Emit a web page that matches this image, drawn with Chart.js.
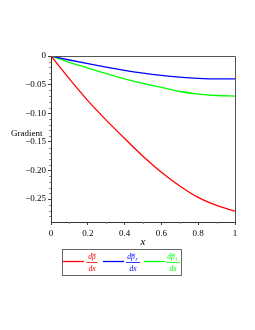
<!DOCTYPE html>
<html><head><meta charset="utf-8">
<script src="https://cdn.jsdelivr.net/npm/chart.js@4"></script>
<style>html,body{margin:0;padding:0;background:#fff}#c{display:block}</style>
</head>
<body>
<canvas id="c" width="255" height="330"></canvas>
<script>
const xValues = [0, 0.1, 0.2, 0.3, 0.4, 0.5, 0.6, 0.7, 0.8, 0.9, 1.0];
const rhoGradient = [0, -0.040, -0.078, -0.112, -0.144, -0.175, -0.203, -0.227, -0.247, -0.261, -0.271];
const prGradient = [0, -0.007, -0.0135, -0.0195, -0.025, -0.030, -0.034, -0.037, -0.039, -0.040, -0.040];
const ptGradient = [0, -0.011, -0.021, -0.031, -0.040, -0.048, -0.055, -0.062, -0.0665, -0.069, -0.070];
const yTickValues = [0, -0.05, -0.10, -0.15, -0.20, -0.25];
const yTickLabels = ['0', '\u22120.05', '\u22120.10', '\u22120.15', '\u22120.20', '\u22120.25'];
const xTickValues = [0, 0.2, 0.4, 0.6, 0.8, 1];
const xTickLabels = ['0', '0.2', '0.4', '0.6', '0.8', '1'];
const seriesColors = ['#ff0000', '#0000ff', '#00ff00'];
const legendNumerators = ['d\u03C1', 'dp', 'dp'];
const legendSubscripts = ['', 'r', 't'];
const legendDenominator = 'dx';
const xTitle = 'x';
const yTitle = 'Gradient';

const FONT = "'Liberation Serif', 'DejaVu Serif', serif";

function pts(ys) { return xValues.map((x, i) => ({ x: x, y: ys[i] })); }

const decor = {
  id: 'decor',
  afterDraw(chart) {
    const ctx = chart.ctx;
    const a = chart.chartArea;
    const xs = chart.scales.x, ys = chart.scales.y;
    ctx.save();
    // frame top/right
    ctx.strokeStyle = '#555';
    ctx.lineWidth = 1;
    ctx.beginPath();
    ctx.moveTo(a.left, a.top + 0.5); ctx.lineTo(a.right + 0.5, a.top + 0.5); ctx.lineTo(a.right + 0.5, a.bottom);
    ctx.stroke();
    // minor ticks
    ctx.strokeStyle = '#888';
    ctx.beginPath();
    for (let k = 1; k < 10; k += 2) {
      const px = Math.round(xs.getPixelForValue(k / 10)) + 0.5;
      ctx.moveTo(px, a.bottom); ctx.lineTo(px, a.bottom + 2);
    }
    for (let k = 1; k <= 28; k++) {
      if (k % 5 === 0) continue;
      const py = Math.round(ys.getPixelForValue(-k / 100)) + 0.5;
      ctx.moveTo(a.left, py); ctx.lineTo(a.left - 2, py);
    }
    ctx.stroke();
    // titles
    ctx.fillStyle = '#000';
    ctx.font = 'italic 11px ' + FONT;
    ctx.textAlign = 'center'; ctx.textBaseline = 'middle';
    ctx.fillText(xTitle, (a.left + a.right) / 2, 242);
    ctx.font = '9px ' + FONT;
    ctx.textAlign = 'left';
    ctx.fillText(yTitle, 11, 134);
    // legend
    ctx.strokeStyle = '#666';
    ctx.lineWidth = 1;
    ctx.strokeRect(62.5, 249.5, 119, 26);
    const lineX = [63, 103, 144];
    const labelX = [92, 133, 173];
    chart.data.datasets.forEach((ds, i) => {
      ctx.strokeStyle = ds.borderColor;
      ctx.lineWidth = 1.3;
      ctx.beginPath();
      ctx.moveTo(lineX[i], 261.5); ctx.lineTo(lineX[i] + 21, 261.5);
      ctx.stroke();
      const cx = labelX[i];
      const sub = legendSubscripts[i];
      const ncx = cx - (sub ? 2 : 0);
      ctx.fillStyle = ds.borderColor;
      ctx.font = 'italic 7.5px ' + FONT;
      ctx.textAlign = 'center'; ctx.textBaseline = 'alphabetic';
      const nw = ctx.measureText(legendNumerators[i]).width;
      ctx.fillText(legendNumerators[i], ncx, 259);
      // overbar on the second letter
      const dw = ctx.measureText('d').width;
      ctx.lineWidth = 0.6;
      ctx.beginPath();
      ctx.moveTo(ncx - nw / 2 + dw, 254.3); ctx.lineTo(ncx + nw / 2 + 0.5, 254.3);
      ctx.stroke();
      if (sub) {
        ctx.font = 'italic 5.5px ' + FONT;
        ctx.textAlign = 'left';
        ctx.fillText(sub, ncx + nw / 2 + 0.8, 260.5);
        ctx.textAlign = 'center';
      }
      ctx.font = 'italic 7.5px ' + FONT;
      ctx.fillText(legendDenominator, cx, 271);
      ctx.lineWidth = 0.8;
      ctx.beginPath();
      ctx.moveTo(cx - (sub ? 7 : 5.5), 262.5); ctx.lineTo(cx + (sub ? 7 : 5.5), 262.5);
      ctx.stroke();
    });
    ctx.restore();
  }
};

new Chart(document.getElementById('c'), {
  type: 'line',
  data: {
    datasets: [
      { data: pts(rhoGradient), borderColor: seriesColors[0] },
      { data: pts(prGradient), borderColor: seriesColors[1] },
      { data: pts(ptGradient), borderColor: seriesColors[2] }
    ]
  },
  options: {
    responsive: false,
    animation: false,
    devicePixelRatio: 1,
    layout: { padding: { left: 0, right: 20, top: 56, bottom: 0 } },
    elements: {
      point: { radius: 0 },
      line: { borderWidth: 1.3, cubicInterpolationMode: 'monotone', fill: false }
    },
    plugins: { legend: { display: false }, tooltip: { enabled: false } },
    scales: {
      x: {
        type: 'linear', min: 0, max: 1,
        afterBuildTicks: s => { s.ticks = xTickValues.map(v => ({ value: v })); },
        afterFit: s => { s.height = 108; },
        grid: { drawOnChartArea: false, tickLength: 3, color: '#444' },
        border: { color: '#333', width: 1 },
        ticks: {
          maxRotation: 0, padding: 3, color: '#000',
          font: { family: FONT, size: 9 },
          callback: v => xTickLabels[xTickValues.indexOf(v)]
        }
      },
      y: {
        type: 'linear', min: -0.29, max: 0,
        afterBuildTicks: s => { s.ticks = yTickValues.map(v => ({ value: v })); },
        afterFit: s => { s.width = 51; },
        grid: { drawOnChartArea: false, tickLength: 3, color: '#444' },
        border: { color: '#333', width: 1 },
        ticks: {
          padding: 2, color: '#000',
          font: { family: FONT, size: 9 },
          callback: v => yTickLabels[yTickValues.indexOf(v)]
        }
      }
    }
  },
  plugins: [decor]
});
</script>
</body></html>
